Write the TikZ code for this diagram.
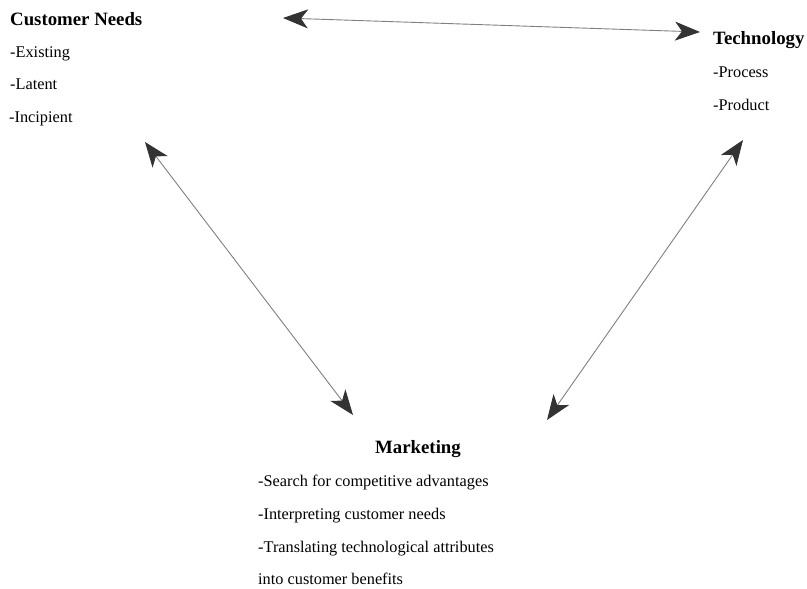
\documentclass[tikz,border=0pt]{standalone}
\usepackage{fontspec}
\setmainfont{Liberation Serif}
\usetikzlibrary{arrows.meta}
\tikzset{
  ttl/.style={anchor=base west,inner sep=0pt,font=\fontsize{18.8}{20}\selectfont\bfseries},
  itm/.style={anchor=base west,inner sep=0pt,font=\fontsize{16.3}{18}\selectfont},
  link/.style={draw=black!50,line width=0.9pt,
    {Stealth[length=25pt,width=19pt,inset=7pt,color=black!80]}-{Stealth[length=25pt,width=19pt,inset=7pt,color=black!80]}}
}
\begin{document}
\begin{tikzpicture}[x=1pt,y=-1pt]
\useasboundingbox (0,0) rectangle (807,589);
\node[ttl] (cn) at (10,26) {Customer Needs};
\node[itm] (cn1) at (10,57) {-Existing};
\node[itm] (cn2) at (10,89) {-Latent};
\node[itm] (cn3) at (9,122) {-Incipient};
\node[ttl] (tc) at (713,44) {Technology};
\node[itm] (tc1) at (713,77) {-Process};
\node[itm] (tc2) at (713,110) {-Product};
\node[ttl] (mk) at (375,453) {Marketing};
\node[itm] (mk1) at (258,486) {-Search for competitive advantages};
\node[itm] (mk2) at (258,519) {-Interpreting customer needs};
\node[itm] (mk3) at (258,552) {-Translating technological attributes};
\node[itm] (mk4) at (258,584) {into customer benefits};
\coordinate (a1) at (283,18);
\coordinate (a2) at (700,32);
\coordinate (b1) at (145,142);
\coordinate (b2) at (353,415);
\coordinate (c1) at (743,140);
\coordinate (c2) at (547,420);
\draw[link] (a1) -- (a2);
\draw[link] (b1) -- (b2);
\draw[link] (c1) -- (c2);
\end{tikzpicture}
\end{document}
